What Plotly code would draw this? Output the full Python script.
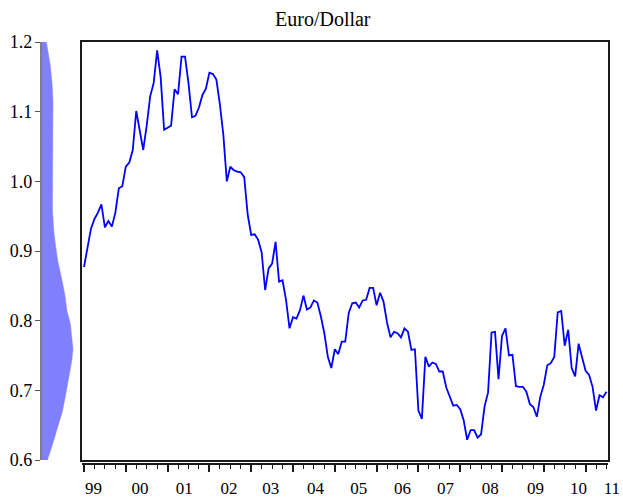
import plotly.graph_objects as go

# ---------------- data ----------------
start_year = 1999  # monthly observations, Jan 1999 .. Jul 2011
euro_dollar = [
    0.877, 0.905, 0.932, 0.946, 0.955, 0.967, 0.934, 0.943, 0.935, 0.955, 0.990, 0.993,  # 1999
    1.021, 1.027, 1.045, 1.101, 1.073, 1.045, 1.080, 1.122, 1.141, 1.188, 1.150, 1.074,  # 2000
    1.077, 1.080, 1.132, 1.125, 1.179, 1.179, 1.141, 1.092, 1.094, 1.106, 1.124, 1.133,  # 2001
    1.156, 1.154, 1.146, 1.111, 1.067, 1.000, 1.021, 1.016, 1.014, 1.013, 1.006, 0.952,  # 2002
    0.923, 0.924, 0.916, 0.898, 0.844, 0.875, 0.882, 0.913, 0.856, 0.858, 0.830, 0.789,  # 2003
    0.805, 0.803, 0.815, 0.836, 0.816, 0.819, 0.829, 0.826, 0.806, 0.782, 0.748, 0.732,  # 2004
    0.759, 0.752, 0.770, 0.770, 0.811, 0.825, 0.826, 0.819, 0.829, 0.830, 0.847, 0.847,  # 2005
    0.822, 0.840, 0.827, 0.797, 0.776, 0.784, 0.782, 0.776, 0.789, 0.784, 0.758, 0.759,  # 2006
    0.671, 0.659, 0.748, 0.734, 0.740, 0.738, 0.727, 0.727, 0.704, 0.691, 0.678, 0.679,  # 2007
    0.673, 0.657, 0.629, 0.643, 0.643, 0.632, 0.637, 0.677, 0.697, 0.783, 0.784, 0.716,  # 2008
    0.778, 0.789, 0.750, 0.751, 0.706, 0.705, 0.705, 0.698, 0.680, 0.676, 0.662, 0.691,  # 2009
    0.708, 0.736, 0.739, 0.748, 0.812, 0.814, 0.764, 0.787, 0.732, 0.720, 0.767, 0.747,  # 2010
    0.728, 0.722, 0.705, 0.671, 0.693, 0.690, 0.698,                                     # 2011
]

# kernel density of the series (drawn sideways on the left)
density_levels = [0.600, 0.603, 0.622, 0.647, 0.670, 0.694, 0.719, 0.742, 0.759, 0.776,
                  0.795, 0.814, 0.838, 0.863, 0.886, 0.906, 0.925, 0.958, 0.987, 1.021,
                  1.069, 1.116, 1.141, 1.165, 1.200]
density_values = [0.75, 0.79, 1.34, 2.00, 2.59, 3.00, 3.41, 3.75, 3.91, 3.78,
                  3.59, 3.16, 2.88, 2.44, 2.00, 1.75, 1.54, 1.34, 1.34, 1.41,
                  1.41, 1.41, 1.29, 1.09, 0.59]

year_ticks = list(range(1999, 2012))
year_labels = ["99", "00", "01", "02", "03", "04", "05", "06", "07", "08", "09", "10", "11"]
label_positions = [1999.23, 2000.34, 2001.40, 2002.47, 2003.47, 2004.54, 2005.57,
                   2006.62, 2007.65, 2008.72, 2009.80, 2010.83, 2011.63]
y_ticks = [0.6, 0.7, 0.8, 0.9, 1.0, 1.1, 1.2]
y_labels = ["0.6", "0.7", "0.8", "0.9", "1.0", "1.1", "1.2"]

# ---------------- layout geometry ----------------
W, H = 623, 499
PX_PER_YEAR = 41.8
X0_PX = 84.0  # pixel of first observation


def t_at(px):
    return start_year + (px - X0_PX) / PX_PER_YEAR


def fx(px):
    return px / W


def fy(py):
    return 1 - py / H


t = [start_year + i / 12 for i in range(len(euro_dollar))]

FONT = "Liberation Serif, Times New Roman, serif"
main_dom_x = [fx(82), fx(608)]
main_dom_y = [fy(460), fy(42)]
main_range_x = [t_at(82), t_at(608)]

fig = go.Figure()

# density panel
fig.add_trace(go.Scatter(
    x=density_values, y=density_levels, xaxis="x4", yaxis="y4",
    mode="lines", fill="tozerox", fillcolor="#8080ff",
    line=dict(width=0.5, color="#8080ff"), hoverinfo="skip", showlegend=False))

# main series
fig.add_trace(go.Scatter(
    x=t, y=euro_dollar, xaxis="x", yaxis="y", mode="lines",
    line=dict(color="#0000ff", width=1.8), showlegend=False))

# helper invisible traces so the tick axes are drawn
fig.add_trace(go.Scatter(x=[t[0]], y=[0.5], xaxis="x2", yaxis="y", mode="markers",
                         marker=dict(opacity=0), hoverinfo="skip", showlegend=False))
fig.add_trace(go.Scatter(x=[label_positions[0]], y=[0.5], xaxis="x3", yaxis="y",
                         mode="markers", marker=dict(opacity=0), hoverinfo="skip",
                         showlegend=False))

common = dict(showgrid=False, zeroline=False, fixedrange=True, automargin=False)

fig.update_layout(
    template="none",
    width=W, height=H, autosize=False,
    margin=dict(l=0, r=0, t=0, b=0, pad=0),
    paper_bgcolor="white", plot_bgcolor="rgba(0,0,0,0)",
    font=dict(family=FONT, size=17, color="black"),
    xaxis=dict(domain=main_dom_x, range=main_range_x, anchor="y",
               showline=True, mirror=True, linecolor="#1a1a1a", linewidth=1.6,
               ticks="", showticklabels=False, **common),
    yaxis=dict(domain=main_dom_y, range=[0.6, 1.2], anchor="x",
               showline=True, mirror=True, linecolor="#1a1a1a", linewidth=1.6,
               ticks="", showticklabels=False, **common),
    xaxis2=dict(overlaying="x", anchor="free", position=fy(464), range=main_range_x,
                showline=True, linecolor="#1a1a1a", linewidth=1.5,
                tickmode="array", tickvals=year_ticks, ticks="outside", ticklen=7,
                tickwidth=1.5, tickcolor="#1a1a1a", showticklabels=False,
                minor=dict(ticks="outside", ticklen=4, tick0=1999, dtick=0.25,
                           tickwidth=1.2, tickcolor="#1a1a1a"),
                **common),
    xaxis3=dict(domain=[0, 1], anchor="free", position=fy(476),
                range=[t_at(0), t_at(W)], showline=False, ticks="",
                tickmode="array", tickvals=label_positions, ticktext=year_labels,
                tickfont=dict(family=FONT, size=17, color="black"),
                **common),
    xaxis4=dict(domain=[fx(41.7), fx(41.7 + 4.2 / 0.125)], range=[0, 4.2], anchor="y4",
                visible=False, **common),
    yaxis4=dict(domain=main_dom_y, range=[0.6, 1.2], anchor="x4", side="left",
                showline=True, linecolor="#808080", linewidth=1.5,
                tickmode="array", tickvals=y_ticks, ticktext=y_labels,
                ticks="outside", ticklen=5, tickcolor="#555555", tickwidth=1,
                ticklabelstandoff=-1,
                tickfont=dict(family=FONT, size=18, color="black"),
                **common),
    annotations=[dict(text="Euro/Dollar", x=fx(323), y=fy(19), xref="paper", yref="paper",
                      xanchor="center", yanchor="middle", showarrow=False,
                      font=dict(family=FONT, size=20, color="black"))],
)

fig.write_html("out.html", config={"displayModeBar": False},
               post_script="document.body.style.margin='0';document.body.style.overflow='hidden';")
